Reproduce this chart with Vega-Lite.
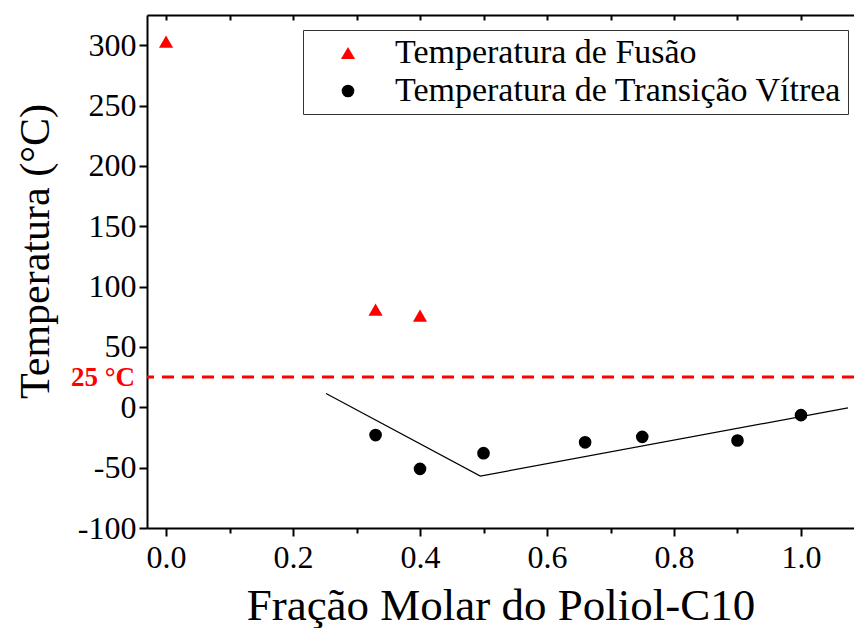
{
  "$schema": "https://vega.github.io/schema/vega-lite/v6.json",
  "width": 707,
  "height": 513,
  "autosize": "none",
  "padding": {"left": 147, "top": 15, "right": 0, "bottom": 100},
  "background": "white",
  "config": {
    "font": "Liberation Serif",
    "view": {"stroke": null},
    "axis": {"grid": false, "domainColor": "black", "domainWidth": 2, "tickColor": "black", "tickWidth": 2, "labelColor": "black", "titleColor": "black", "labelFont": "Liberation Serif", "titleFont": "Liberation Serif", "titleFontWeight": "normal"}
  },
  "datasets": {
    "pts": [
      {"x": 0.0, "y": 303, "serie": "Temperatura de Fusão"},
      {"x": 0.33, "y": 81, "serie": "Temperatura de Fusão"},
      {"x": 0.40, "y": 76, "serie": "Temperatura de Fusão"},
      {"x": 0.33, "y": -23, "serie": "Temperatura de Transição Vítrea"},
      {"x": 0.40, "y": -51, "serie": "Temperatura de Transição Vítrea"},
      {"x": 0.50, "y": -38, "serie": "Temperatura de Transição Vítrea"},
      {"x": 0.66, "y": -29, "serie": "Temperatura de Transição Vítrea"},
      {"x": 0.75, "y": -24.5, "serie": "Temperatura de Transição Vítrea"},
      {"x": 0.90, "y": -27.5, "serie": "Temperatura de Transição Vítrea"},
      {"x": 1.00, "y": -6.5, "serie": "Temperatura de Transição Vítrea"}
    ],
    "fit": [
      {"x": 0.252, "y": 11.5, "o": 1},
      {"x": 0.495, "y": -57, "o": 2},
      {"x": 1.074, "y": -0.5, "o": 3}
    ],
    "ref": [{"x": -0.03, "y": 25, "label": "25 °C"}]
  },
  "resolve": {"axis": {"x": "independent"}},
  "layer": [
    {
      "data": {"name": "ref"},
      "mark": {"type": "rule", "color": "#ff0000", "strokeWidth": 3, "strokeDash": [12, 8]},
      "encoding": {
        "y": {"field": "y", "type": "quantitative", "scale": {"domain": [-100, 325]}}
      }
    },
    {
      "data": {"name": "ref"},
      "mark": {"type": "text", "color": "#ff0000", "fontWeight": "bold", "fontSize": 27, "font": "Liberation Serif", "align": "right", "baseline": "middle", "dx": -12, "dy": 1},
      "encoding": {
        "x": {"field": "x", "type": "quantitative", "axis": null},
        "y": {"field": "y", "type": "quantitative"},
        "text": {"field": "label"}
      }
    },
    {
      "data": {"name": "fit"},
      "mark": {"type": "line", "color": "black", "strokeWidth": 1.2},
      "encoding": {
        "x": {
          "field": "x", "type": "quantitative",
          "axis": {"orient": "top", "title": null, "labels": false, "values": [0, 0.1, 0.2, 0.3, 0.4, 0.5, 0.6, 0.7, 0.8, 0.9, 1.0], "tickSize": -5}
        },
        "y": {"field": "y", "type": "quantitative"},
        "order": {"field": "o"}
      }
    },
    {
      "data": {"name": "pts"},
      "mark": {"type": "point", "filled": true, "opacity": 1},
      "encoding": {
        "x": {
          "field": "x", "type": "quantitative",
          "scale": {"domain": [-0.03, 1.0835], "nice": false, "zero": false},
          "axis": {
            "orient": "bottom",
            "title": "Fração Molar do Poliol-C10",
            "titleFont": "Liberation Serif",
            "titleFontSize": 45,
            "titlePadding": 10,
            "values": [0, 0.1, 0.2, 0.3, 0.4, 0.5, 0.6, 0.7, 0.8, 0.9, 1.0],
            "labelExpr": "round(datum.value*10) % 2 == 0 ? format(datum.value, '.1f') : ''",
            "labelFont": "Liberation Serif",
            "labelFontSize": 32,
            "labelPadding": 6,
            "labelOverlap": false,
            "tickSize": {"condition": {"test": "round(datum.value*10) % 2 == 0", "value": 8}, "value": 5}
          }
        },
        "y": {
          "field": "y", "type": "quantitative",
          "scale": {"domain": [-100, 325], "nice": false, "zero": false},
          "axis": {
            "title": "Temperatura (°C)",
            "titleFont": "Liberation Serif",
            "titleFontSize": 42,
            "titleX": -112,
            "titleY": 236,
            "titleAlign": "center",
            "titleBaseline": "middle",
            "titleAngle": -90,
            "values": [-100, -75, -50, -25, 0, 25, 50, 75, 100, 125, 150, 175, 200, 225, 250, 275, 300],
            "labelExpr": "datum.value % 50 == 0 ? toString(datum.value) : ''",
            "labelFont": "Liberation Serif",
            "labelFontSize": 32,
            "labelPadding": 3,
            "labelOverlap": false,
            "tickSize": {"condition": {"test": "datum.value % 50 == 0", "value": 8}, "value": 5}
          }
        },
        "size": {
          "field": "serie", "type": "nominal",
          "scale": {"domain": ["Temperatura de Fusão", "Temperatura de Transição Vítrea"], "range": [200, 160]},
          "legend": null
        },
        "color": {
          "field": "serie", "type": "nominal",
          "scale": {"domain": ["Temperatura de Fusão", "Temperatura de Transição Vítrea"], "range": ["#ff0000", "black"]},
          "legend": {
            "title": null,
            "orient": "none",
            "legendX": 156,
            "legendY": 15,
            "strokeColor": "#333333",
            "fillColor": "white",
            "padding": 6,
            "labelFontSize": 34,
            "labelFont": "Liberation Serif",
            "labelColor": "black",
            "labelLimit": 700,
            "symbolSize": 150,
            "symbolOffset": 22,
            "labelOffset": 30,
            "rowPadding": 4
          }
        },
        "shape": {
          "field": "serie", "type": "nominal",
          "scale": {"domain": ["Temperatura de Fusão", "Temperatura de Transição Vítrea"], "range": ["triangle-up", "circle"]},
          "legend": null
        }
      }
    }
  ]
}
